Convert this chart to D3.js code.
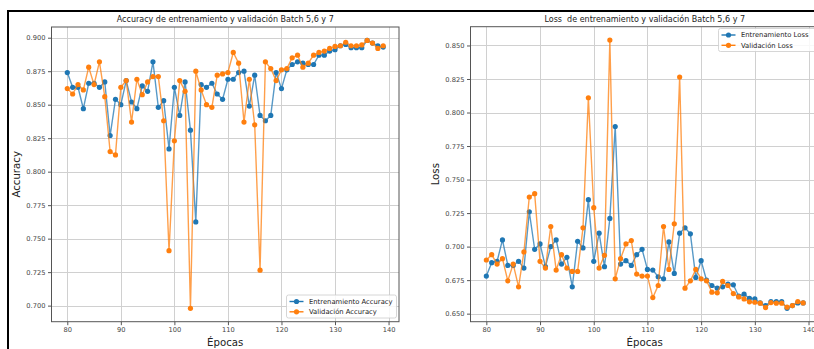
<!DOCTYPE html>
<html>
<head>
<meta charset="utf-8">
<script src="https://cdn.jsdelivr.net/npm/d3@7"></script>
<style>
  html, body { margin: 0; padding: 0; background: #fff; }
  svg { display: block; font-family: "DejaVu Sans", sans-serif; }
</style>
</head>
<body>
<svg id="chart" width="814" height="349"></svg>
<script>
// ---------------- DATA ----------------
const epochs = d3.range(80, 140);

const trainAcc = [
  0.874, 0.863, 0.863, 0.847, 0.866, 0.866, 0.863, 0.867, 0.827, 0.854,
  0.850, 0.868, 0.852, 0.847, 0.864, 0.860, 0.882, 0.848, 0.853, 0.817,
  0.863, 0.842, 0.867, 0.831, 0.7625, 0.865, 0.863, 0.866, 0.858, 0.854,
  0.869, 0.869, 0.874, 0.875, 0.849, 0.872, 0.842, 0.838, 0.842, 0.874,
  0.862, 0.876, 0.880, 0.882, 0.881, 0.880, 0.880, 0.887, 0.887, 0.890,
  0.891, 0.894, 0.895, 0.8925, 0.8925, 0.8925, 0.898, 0.896, 0.894, 0.893
];
const valAcc = [
  0.862, 0.858, 0.865, 0.861, 0.878, 0.865, 0.882, 0.856, 0.815, 0.8125,
  0.863, 0.868, 0.837, 0.869, 0.8575, 0.867, 0.871, 0.871, 0.838, 0.741,
  0.823, 0.868, 0.860, 0.698, 0.875, 0.861, 0.850, 0.848, 0.872, 0.873,
  0.874, 0.889, 0.881, 0.837, 0.869, 0.835, 0.7265, 0.882, 0.877, 0.868,
  0.876, 0.877, 0.885, 0.887, 0.878, 0.881, 0.887, 0.889, 0.890, 0.892,
  0.8935, 0.894, 0.8966, 0.894, 0.894, 0.8946, 0.898, 0.896, 0.892, 0.894
];
const trainLoss = [
  0.678, 0.688, 0.689, 0.705, 0.686, 0.686, 0.689, 0.684, 0.726, 0.698,
  0.702, 0.685, 0.700, 0.705, 0.687, 0.692, 0.670, 0.704, 0.699, 0.735,
  0.689, 0.710, 0.685, 0.721, 0.7895, 0.687, 0.6895, 0.686, 0.694, 0.698,
  0.683, 0.6825, 0.6775, 0.676, 0.7035, 0.680, 0.710, 0.714, 0.7095, 0.677,
  0.6895, 0.675, 0.671, 0.669, 0.670, 0.672, 0.6715, 0.663, 0.6645, 0.6615,
  0.661, 0.658, 0.656, 0.659, 0.659, 0.659, 0.654, 0.656, 0.658, 0.658
];
const valLoss = [
  0.690, 0.694, 0.687, 0.691, 0.6745, 0.687, 0.670, 0.696, 0.737, 0.7395,
  0.689, 0.684, 0.715, 0.6825, 0.694, 0.684, 0.6815, 0.6815, 0.714, 0.811,
  0.729, 0.684, 0.6935, 0.854, 0.676, 0.691, 0.702, 0.7045, 0.6795, 0.678,
  0.678, 0.662, 0.671, 0.715, 0.683, 0.717, 0.8265, 0.669, 0.6745, 0.683,
  0.676, 0.6745, 0.666, 0.6655, 0.674, 0.671, 0.665, 0.6625, 0.661, 0.6588,
  0.6585, 0.6578, 0.6545, 0.6583, 0.6578, 0.6578, 0.6548, 0.656, 0.659, 0.658
];

const xTicks = [80, 90, 100, 110, 120, 130, 140];
const accTicks = [0.700, 0.725, 0.750, 0.775, 0.800, 0.825, 0.850, 0.875, 0.900];
const lossTicks = [0.650, 0.675, 0.700, 0.725, 0.750, 0.775, 0.800, 0.825, 0.850];

const accTitle = "Accuracy de entrenamiento y validación Batch 5,6 y 7";
const lossTitle = "Loss  de entrenamiento y validación Batch 5,6 y 7";
const accSeriesNames = ["Entrenamiento Accuracy", "Validación Accuracy"];
const lossSeriesNames = ["Entrenamiento Loss", "Validación Loss"];
const xLabel = "Épocas";
const colors = ["#1f77b4", "#ff7f0e"];

// ---------------- DRAW ----------------
const svg = d3.select("#chart");

function padded(arrs) {
  const all = arrs.flat();
  const lo = d3.min(all), hi = d3.max(all), s = hi - lo;
  return [lo - 0.05 * s, hi + 0.05 * s];
}

function panel(opt) {
  const g = svg.append("g");
  const xDom = [epochs[0] - 0.05 * (epochs[epochs.length-1] - epochs[0]),
                epochs[epochs.length-1] + 0.05 * (epochs[epochs.length-1] - epochs[0])];
  const x = d3.scaleLinear().domain(xDom).range([opt.left, opt.right]);
  const y = d3.scaleLinear().domain(padded(opt.series)).range([opt.bottom, opt.top]);

  const cid = "clip" + opt.id;
  svg.append("clipPath").attr("id", cid).append("rect")
    .attr("x", opt.left).attr("y", opt.top)
    .attr("width", opt.right - opt.left).attr("height", opt.bottom - opt.top);

  // grid
  const grid = g.append("g").attr("clip-path", `url(#${cid})`);
  grid.selectAll("line.gx").data(xTicks).join("line")
    .attr("x1", d => Math.round(x(d)) + 0.5).attr("x2", d => Math.round(x(d)) + 0.5)
    .attr("y1", opt.top).attr("y2", opt.bottom)
    .attr("stroke", "#d0d0d0").attr("stroke-width", 1);
  grid.selectAll("line.gy").data(opt.yTicks).join("line")
    .attr("y1", d => Math.round(y(d)) + 0.5).attr("y2", d => Math.round(y(d)) + 0.5)
    .attr("x1", opt.left).attr("x2", opt.right)
    .attr("stroke", "#d0d0d0").attr("stroke-width", 1);

  // axes
  const xAxis = d3.axisBottom(x).tickValues(xTicks).tickSize(3.5).tickPadding(2.5)
    .tickFormat(d3.format("d"));
  const yAxis = d3.axisLeft(y).tickValues(opt.yTicks).tickSize(3.5).tickPadding(2.5)
    .tickFormat(d3.format(".3f"));
  const gx = g.append("g").attr("transform", `translate(0,${opt.bottom})`).call(xAxis);
  const gy = g.append("g").attr("transform", `translate(${opt.left},0)`).call(yAxis);
  [gx, gy].forEach(a => {
    a.select(".domain").remove();
    a.selectAll(".tick line").attr("stroke", "#555");
    a.selectAll(".tick text").attr("fill", "#444").style("font-size", "6.7px")
      .style("font-family", "'DejaVu Sans', sans-serif");
  });

  // spines
  g.append("rect").attr("x", opt.left).attr("y", opt.top)
    .attr("width", opt.right - opt.left).attr("height", opt.bottom - opt.top)
    .attr("fill", "none").attr("stroke", "#555").attr("stroke-width", 1);

  // series
  const plot = g.append("g").attr("clip-path", `url(#${cid})`);
  opt.series.forEach((vals, i) => {
    const pts = epochs.map((e, k) => [e, vals[k]]);
    plot.append("path").datum(pts)
      .attr("d", d3.line().x(d => x(d[0])).y(d => y(d[1])))
      .attr("fill", "none").attr("stroke", colors[i]).attr("stroke-width", 1.4)
      .attr("stroke-opacity", 0.75);
    plot.selectAll(null).data(pts).join("circle")
      .attr("cx", d => x(d[0])).attr("cy", d => y(d[1])).attr("r", 2.6)
      .attr("fill", colors[i]);
  });

  // title
  g.append("text").attr("x", (opt.left + opt.right) / 2).attr("y", opt.top - 5)
    .attr("text-anchor", "middle").attr("fill", "#222").style("font-size", "8px")
    .style("white-space", "pre").attr("xml:space", "preserve")
    .text(opt.title);
  // x label
  g.append("text").attr("x", (opt.left + opt.right) / 2).attr("y", 346)
    .attr("text-anchor", "middle").attr("fill", "#222").style("font-size", "10.2px")
    .text(xLabel);
  // y label
  g.append("text")
    .attr("transform", `translate(${opt.yLabelX},${(opt.top + opt.bottom) / 2}) rotate(-90)`)
    .attr("text-anchor", "middle").attr("fill", "#222").style("font-size", "10.2px")
    .text(opt.yLabel);

  // legend
  const lg = g.append("g");
  lg.append("rect").attr("x", opt.legX).attr("y", opt.legY)
    .attr("width", opt.legW).attr("height", 23).attr("rx", 2)
    .attr("fill", "#fff").attr("fill-opacity", 0.85)
    .attr("stroke", "#ccc").attr("stroke-width", 0.8);
  opt.names.forEach((n, i) => {
    const cy = opt.legY + 6.5 + i * 10.3;
    lg.append("line").attr("x1", opt.legX + 3).attr("x2", opt.legX + 17)
      .attr("y1", cy).attr("y2", cy).attr("stroke", colors[i]).attr("stroke-width", 1.4);
    lg.append("circle").attr("cx", opt.legX + 10).attr("cy", cy).attr("r", 2.6)
      .attr("fill", colors[i]);
    lg.append("text").attr("x", opt.legX + 22.5).attr("y", cy).attr("dy", "0.35em")
      .attr("fill", "#222").style("font-size", "6.8px").text(n);
  });
}

panel({
  id: "a", left: 51.5, right: 399, top: 27, bottom: 321.7,
  series: [trainAcc, valAcc], yTicks: accTicks, title: accTitle,
  yLabel: "Accuracy", yLabelX: 20, names: accSeriesNames,
  legX: 286.5, legY: 295, legW: 110
});
panel({
  id: "l", left: 470.5, right: 819, top: 26.7, bottom: 321.7,
  series: [trainLoss, valLoss], yTicks: lossTicks, title: lossTitle,
  yLabel: "Loss", yLabelX: 439, names: lossSeriesNames,
  legX: 718.5, legY: 28.5, legW: 100
});

// outer frame (partial, as in the screenshot)
svg.append("line").attr("x1", 7).attr("x2", 814).attr("y1", 11).attr("y2", 11)
  .attr("stroke", "#000").attr("stroke-width", 2);
svg.append("line").attr("x1", 8).attr("x2", 8).attr("y1", 10).attr("y2", 349)
  .attr("stroke", "#000").attr("stroke-width", 2);
</script>
</body>
</html>
